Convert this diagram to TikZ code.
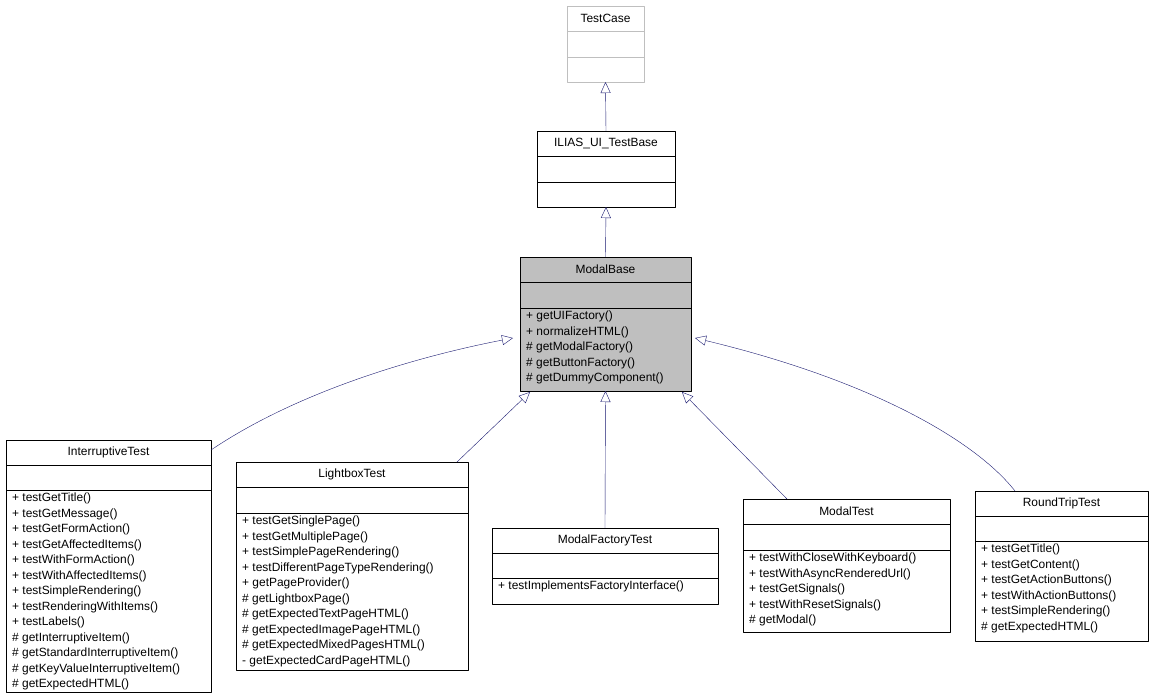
\documentclass[tikz,border=0pt]{standalone}
\usepackage{fontspec}
\setmainfont{Liberation Sans}
\usetikzlibrary{arrows.meta}
\definecolor{edgeblue}{HTML}{191970}
\colorlet{cellline}{black}
\tikzset{
  cell/.style={draw=cellline,rectangle,inner sep=0pt,outer sep=0pt},
  members/.style={draw=none,fill=none,anchor=north west,inner sep=0pt,align=left,font=\fontsize{12}{15.55}\selectfont},
  inherit/.style={edgeblue,-{Triangle[open,length=11bp,width=10bp,fill=white]}},
}
% #1 name, #2 left, #3 right, #4 top, #5 split1, #6 split2, #7 bottom, #8 title, #9 members
\newcommand{\classbox}[9]{%
  \node (#1) at ({(#2+#3)/2*1bp},{-(#4+#5)/2*1bp}) [cell,minimum width={(#3-#2)*1bp},minimum height={(#5-#4)*1bp},font=\fontsize{12}{13}\selectfont] {#8};
  \node (#1-a) at ({(#2+#3)/2*1bp},{-(#5+#6)/2*1bp}) [cell,minimum width={(#3-#2)*1bp},minimum height={(#6-#5)*1bp}] {};
  \node (#1-o) at ({(#2+#3)/2*1bp},{-(#6+#7)/2*1bp}) [cell,minimum width={(#3-#2)*1bp},minimum height={(#7-#6)*1bp}] {};
  \node (#1-t) at ({(#2+6)*1bp},{-(#6+3)*1bp}) [members] {#9};
}
\begin{document}
\begin{tikzpicture}[line join=bevel]
\useasboundingbox (0,0) rectangle (1154bp,-699bp);
%%
\begin{scope}
\colorlet{cellline}{black!25}
\classbox{testcase}{567}{644}{6}{31}{57}{82}{TestCase}{}
\end{scope}
\classbox{testbase}{537}{675}{131}{156}{182}{207}{ILIAS\_UI\_TestBase}{}
\begin{scope}[every node/.append style={fill=black!25}]
\classbox{modalbase}{520}{691}{257}{282}{308}{391}{ModalBase}{+ getUIFactory()\\+ normalizeHTML()\\\# getModalFactory()\\\# getButtonFactory()\\\# getDummyComponent()}
\end{scope}
\classbox{interruptive}{6}{211}{440}{465}{490}{692}{InterruptiveTest}{+ testGetTitle()\\+ testGetMessage()\\+ testGetFormAction()\\+ testGetAffectedItems()\\+ testWithFormAction()\\+ testWithAffectedItems()\\+ testSimpleRendering()\\+ testRenderingWithItems()\\+ testLabels()\\\# getInterruptiveItem()\\\# getStandardInterruptiveItem()\\\# getKeyValueInterruptiveItem()\\\# getExpectedHTML()}
\classbox{lightbox}{236}{468}{462}{487}{513}{670}{LightboxTest}{+ testGetSinglePage()\\+ testGetMultiplePage()\\+ testSimplePageRendering()\\+ testDifferentPageTypeRendering()\\+ getPageProvider()\\\# getLightboxPage()\\\# getExpectedTextPageHTML()\\\# getExpectedImagePageHTML()\\\# getExpectedMixedPagesHTML()\\- getExpectedCardPageHTML()}
\classbox{factory}{492}{718}{528}{553}{578}{604}{ModalFactoryTest}{+ testImplementsFactoryInterface()}
\classbox{modaltest}{743}{950}{499}{524}{550}{632}{ModalTest}{+ testWithCloseWithKeyboard()\\+ testWithAsyncRenderedUrl()\\+ testGetSignals()\\+ testWithResetSignals()\\\# getModal()}
\classbox{roundtrip}{975}{1148}{491}{516}{541}{641}{RoundTripTest}{+ testGetTitle()\\+ testGetContent()\\+ testGetActionButtons()\\+ testWithActionButtons()\\+ testSimpleRendering()\\\# getExpectedHTML()}
\coordinate (mb_left) at (513bp,-338bp);
\coordinate (mb_right) at (695bp,-338bp);
\coordinate (mb_lb) at (530bp,-392bp);
\coordinate (mb_mt) at (682bp,-392bp);
\coordinate (int_out) at (211bp,-450bp);
\coordinate (rt_out) at (1015bp,-491bp);
\coordinate (lb_out) at (457bp,-462bp);
\coordinate (mt_out) at (787bp,-499bp);
\draw [inherit] (testbase.north) -- (testcase-o.south);
\draw [inherit] (modalbase.north) -- (testbase-o.south);
\draw [inherit] (int_out) .. controls (300bp,-390bp) and (420bp,-356bp) .. (mb_left);
\draw [inherit] (lb_out) -- (mb_lb);
\draw [inherit] (factory.north) -- (modalbase-o.south);
\draw [inherit] (mt_out) -- (mb_mt);
\draw [inherit] (rt_out) .. controls (975bp,-440bp) and (870bp,-380bp) .. (mb_right);
%
\end{tikzpicture}
\end{document}
